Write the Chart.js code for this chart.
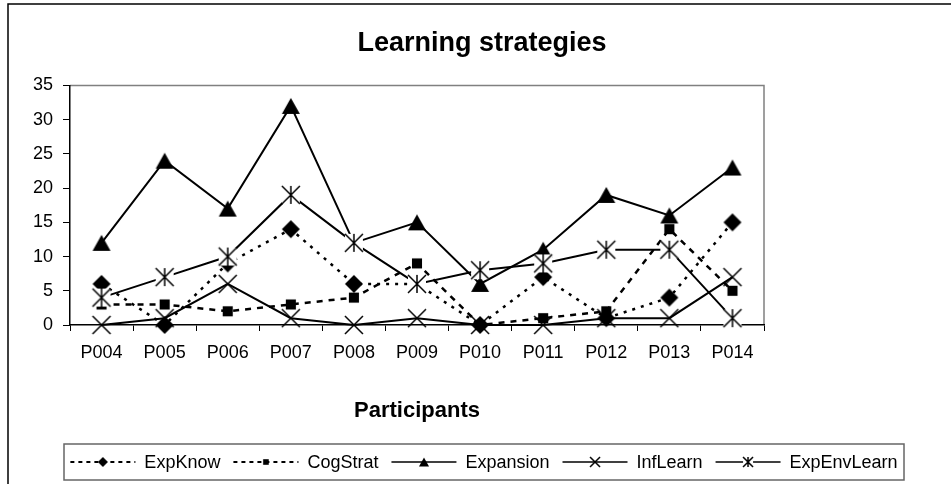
<!DOCTYPE html>
<html>
<head>
<meta charset="utf-8">
<script src="https://cdn.jsdelivr.net/npm/chart.js@4.4.1/dist/chart.umd.min.js"></script>
<style>
  html, body { margin: 0; padding: 0; background: #fff; }
  #wrap { width: 951px; height: 484px; }
</style>
</head>
<body>
<div id="wrap"><canvas id="chart" width="951" height="484"></canvas></div>
<script>
var participants = ["P004", "P005", "P006", "P007", "P008", "P009", "P010", "P011", "P012", "P013", "P014"];
var expKnow     = [6, 0, 9, 14, 6, 6, 0, 7, 1, 4, 15];
var cogStrat    = [3, 3, 2, 3, 4, 9, 0, 1, 2, 14, 5];
var expansion   = [12, 24, 17, 32, 12, 15, 6, 11, 19, 16, 23];
var infLearn    = [0, 1, 6, 1, 0, 1, 0, 0, 1, 1, 7];
var expEnvLearn = [4, 7, 10, 19, 12, 6, 8, 9, 11, 11, 1];
var seriesNames = ["ExpKnow", "CogStrat", "Expansion", "InfLearn", "ExpEnvLearn"];

Chart.defaults.font.family = '"Liberation Sans", Arial, sans-serif';
Chart.defaults.color = '#000';

// draw a marker into its own little canvas so it can be used as pointStyle
function marker(kind, s) {
  var c = document.createElement('canvas');
  c.width = c.height = s * 2 + 4;
  var g = c.getContext('2d');
  var m = s + 2;
  g.fillStyle = '#000';
  g.strokeStyle = '#000';
  g.lineWidth = 1.5;
  g.beginPath();
  if (kind === 'diamond') {
    g.moveTo(m, m - s); g.lineTo(m + s, m); g.lineTo(m, m + s); g.lineTo(m - s, m);
    g.closePath(); g.fill();
  } else if (kind === 'square') {
    var h = s * 0.56;
    g.fillRect(m - h, m - h, h * 2, h * 2);
  } else if (kind === 'triangle') {
    g.moveTo(m, m - s * 0.9); g.lineTo(m + s, m + s * 0.9); g.lineTo(m - s, m + s * 0.9);
    g.closePath(); g.fill();
  } else {
    if (kind === 'star') {
      // the star marker is opaque, it hides what lies under it
      g.fillStyle = '#fff';
      g.fillRect(m - s, m - s, s * 2, s * 2);
    }
    g.moveTo(m - s, m - s); g.lineTo(m + s, m + s);
    g.moveTo(m + s, m - s); g.lineTo(m - s, m + s);
    if (kind === 'star') { g.moveTo(m, m - s); g.lineTo(m, m + s); }
    g.stroke();
  }
  return c;
}

var kinds = ['diamond', 'square', 'triangle', 'cross', 'star'];
var dashes = [[3, 6], [6, 6], [], [], []];
var values = [expKnow, cogStrat, expansion, infLearn, expEnvLearn];

// later series sit on top of earlier ones, like in the original
var datasets = values.map(function (v, i) {
  return {
    label: seriesNames[i],
    data: v,
    borderColor: '#000',
    backgroundColor: '#000',
    borderWidth: i < 2 ? 2.5 : 2,
    borderDash: dashes[i],
    pointStyle: marker(kinds[i], 9),
    pointRadius: 9,
    tension: 0,
    fill: false,
    clip: false,
    order: 4 - i
  };
});

var framePlugin = {
  id: 'frame',
  beforeDraw: function (chart) {
    var c = chart.ctx, a = chart.chartArea;
    c.save();
    c.fillStyle = '#fff';
    c.fillRect(0, 0, chart.width, chart.height);
    c.strokeStyle = '#000';
    c.lineWidth = 1.5;
    c.strokeRect(8, 4, 1000, 1000);
    c.strokeStyle = '#808080';
    c.lineWidth = 1.5;
    c.beginPath();
    c.moveTo(a.left, a.top); c.lineTo(a.right, a.top); c.lineTo(a.right, a.bottom);
    c.stroke();
    c.restore();
  },
  afterDraw: function (chart) {
    var c = chart.ctx;
    c.save();
    c.strokeStyle = '#666';
    c.lineWidth = 1.5;
    c.strokeRect(64, 444, 840, 36);
    c.font = '18px "Liberation Sans", Arial, sans-serif';
    c.textBaseline = 'middle';
    c.fillStyle = '#000';
    var sampleW = 65, gapText = 9, gapItem = 13, y = 462;
    var total = 0;
    seriesNames.forEach(function (n) { total += sampleW + gapText + c.measureText(n).width; });
    total += gapItem * (seriesNames.length - 1);
    var x = 484 - total / 2;
    seriesNames.forEach(function (n, i) {
      c.strokeStyle = '#000';
      c.lineWidth = i < 2 ? 2 : 1.5;
      c.setLineDash(dashes[i].length ? [4, 4] : []);
      c.beginPath();
      c.moveTo(x, y); c.lineTo(x + sampleW, y);
      c.stroke();
      c.setLineDash([]);
      var mk = marker(kinds[i], 5);
      c.drawImage(mk, x + sampleW / 2 - mk.width / 2, y - mk.height / 2);
      x += sampleW + gapText;
      c.fillText(n, x, y + 1);
      x += c.measureText(n).width + gapItem;
    });
    c.restore();
  }
};

var ctx = document.getElementById('chart');
var chart = new Chart(ctx, {
  type: 'line',
  data: { labels: participants, datasets: datasets },
  options: {
    responsive: false,
    animation: false,
    layout: { padding: { left: 13, right: 0, top: 0, bottom: 0 } },
    plugins: {
      legend: { display: false },
      tooltip: { enabled: false },
      title: {
        display: true,
        text: 'Learning strategies',
        color: '#000',
        font: { size: 27, weight: 'bold', lineHeight: 1.2 },
        padding: { top: 27, bottom: 26 }
      }
    },
    scales: {
      x: {
        offset: true,
        grid: { offset: true, drawOnChartArea: false, tickLength: 6, color: '#000' },
        border: { color: '#000', width: 1.5 },
        ticks: { color: '#000', font: { size: 18 }, padding: 11, maxRotation: 0, autoSkip: false },
        title: {
          display: true,
          text: 'Participants',
          color: '#000',
          font: { size: 22, weight: 'bold' },
          padding: { top: 0, bottom: 60 }
        },
        afterFit: function (s) { s.height = 484 - 325; }
      },
      y: {
        min: 0,
        max: 35,
        ticks: { stepSize: 5, color: '#000', font: { size: 18 }, padding: 10 },
        grid: { drawOnChartArea: false, tickLength: 7, color: '#000' },
        border: { color: '#000', width: 1.5 },
        afterFit: function (s) { s.width = 57; }
      },
      yr: {
        type: 'linear',
        position: 'right',
        grid: { display: false },
        ticks: { display: false },
        border: { display: false },
        afterFit: function (s) { s.width = 187; }
      }
    }
  },
  plugins: [framePlugin]
});
</script>
</body>
</html>
